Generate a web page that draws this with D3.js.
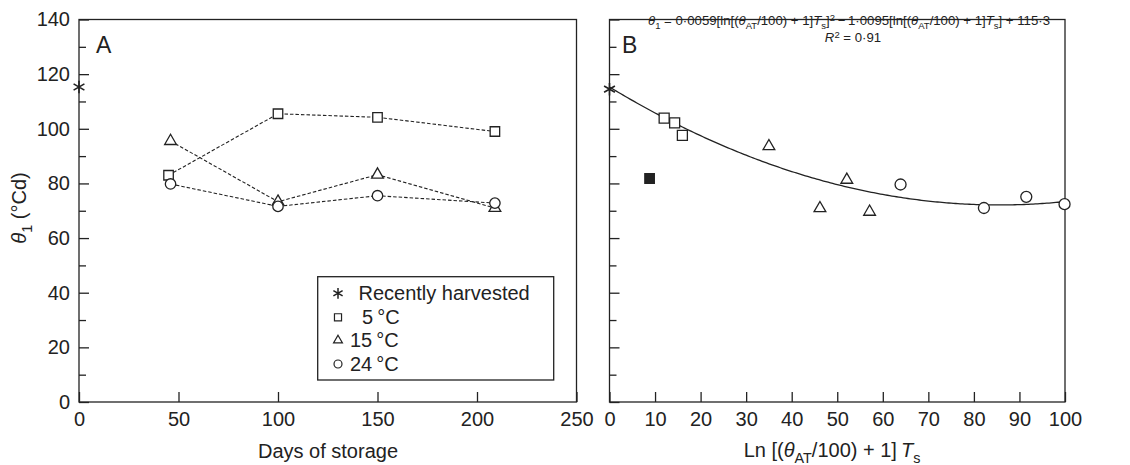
<!DOCTYPE html>
<html>
<head>
<meta charset="utf-8">
<script src="https://cdn.jsdelivr.net/npm/d3@7"></script>
<style>
  body { margin: 0; background: #fff; }
  text { font-family: "Liberation Sans", Arial, sans-serif; fill: #222; }
</style>
</head>
<body>
<script>
// panel A: days of storage
const days = [45, 100, 150, 209];
const days_first = [46, 100, 150, 209];
const fresh_A = [{x: 0, y: 115.3}];
const t5_A = [83, 105.5, 104.2, 99];
const t15_A = [95.5, 73.3, 83.2, 71];
const t24_A = [79.8, 71.6, 75.5, 72.8];

// panel B: Ln[(thetaAT/100)+1]Ts
const fresh_B = [{x: 0, y: 114.5}];
const sq_B = [{x: 12.0, y: 103.9}, {x: 14.3, y: 102.2}, {x: 16.0, y: 97.6}];
const filled_B = [{x: 8.8, y: 81.8}];
const tri_B = [{x: 35.0, y: 93.6}, {x: 46.2, y: 70.9}, {x: 52.1, y: 81.3}, {x: 57.1, y: 69.6}];
const circ_B = [{x: 63.9, y: 79.6}, {x: 82.2, y: 71.0}, {x: 91.5, y: 75.1}, {x: 99.9, y: 72.4}];
const fit_coef = [115.3, -1.0095, 0.0059];

const y_ticks = [0, 20, 40, 60, 80, 100, 120, 140];
const y_minor = [10, 30, 50, 70, 90, 110, 130];
const xA_ticks = [0, 50, 100, 150, 200, 250];
const xB_ticks = [0, 10, 20, 30, 40, 50, 60, 70, 80, 90, 100];

const W = 1130, H = 465;
const top_y = 19.5, bot_y = 402;
const ink = "#222";
const fs = 20;

let svg = d3.select("body").append("svg")
  .attr("width", W).attr("height", H);

let y = d3.scaleLinear().domain([0, 140]).range([bot_y, top_y]);
let xA = d3.scaleLinear().domain([0, 250]).range([79, 576.5]);
let xB = d3.scaleLinear().domain([0, 100]).range([609.5, 1065]);

// rich text helper: parts = [[text, kind]] kind: "", "i", "sub", "sup"
let rich = function(sel, parts, size){
  let shift = 0;
  parts.forEach(function(p){
    let kind = p[1] || "";
    let target = 0, fsz = size;
    if(kind === "sub"){ target = size * 0.3; fsz = size * 0.72; }
    if(kind === "sup"){ target = -size * 0.33; fsz = size * 0.72; }
    let ts = sel.append("tspan")
      .attr("dy", target - shift)
      .attr("font-size", fsz)
      .text(p[0]);
    if(kind === "i") ts.attr("font-style", "italic");
    shift = target;
  });
};

let frame = function(x){
  svg.append("rect")
    .attr("x", x.range()[0]).attr("y", top_y)
    .attr("width", x.range()[1] - x.range()[0]).attr("height", bot_y - top_y)
    .attr("fill", "none").attr("stroke", ink).attr("stroke-width", 1.3);
};

let y_axis = function(x, labels){
  let g = svg.append("g")
    .attr("transform", "translate(" + x.range()[0] + ",0)")
    .call(d3.axisLeft(y).tickValues(y_ticks).tickSizeInner(-10).tickSizeOuter(0).tickPadding(9)
      .tickFormat(labels ? d3.format("d") : ""));
  g.select(".domain").remove();
  g.selectAll("line").attr("stroke", ink).attr("stroke-width", 1.3);
  if(labels){
    g.selectAll("text").attr("font-size", fs).attr("font-family", null).attr("fill", ink);
  }else{
    g.selectAll("text").remove();
  }
  let m = svg.append("g")
    .attr("transform", "translate(" + x.range()[0] + ",0)")
    .call(d3.axisLeft(y).tickValues(y_minor).tickSizeInner(-7).tickSizeOuter(0).tickFormat(""));
  m.select(".domain").remove();
  m.selectAll("text").remove();
  m.selectAll("line").attr("stroke", ink).attr("stroke-width", 1.3);
};

let x_axis = function(x, ticks){
  let g = svg.append("g")
    .attr("transform", "translate(0," + bot_y + ")")
    .call(d3.axisBottom(x).tickValues(ticks).tickSizeInner(-10).tickSizeOuter(0).tickPadding(10));
  g.select(".domain").remove();
  g.selectAll("line").attr("stroke", ink).attr("stroke-width", 1.3);
  g.selectAll("text").attr("font-size", fs).attr("font-family", null).attr("fill", ink);
};

let sym = function(type, size){ return d3.symbol().type(type).size(size)(); };

let markers = function(data, x, type, size, fill, sw){
  svg.append("g").selectAll("path").data(data).join("path")
    .attr("transform", d => "translate(" + x(d.x) + "," + y(d.y) + ")")
    .attr("d", sym(type, size))
    .attr("fill", fill || "#fff")
    .attr("stroke", ink).attr("stroke-width", sw || 1.3);
};

// ---------- panel A ----------
frame(xA);
y_axis(xA, true);
x_axis(xA, xA_ticks);

let series_A = [
  {vals: t5_A, xs: days, type: d3.symbolSquare, size: 90},
  {vals: t15_A, xs: days_first, type: d3.symbolTriangle, size: 60},
  {vals: t24_A, xs: days_first, type: d3.symbolCircle, size: 85}
];
let line = d3.line().x(d => xA(d.x)).y(d => y(d.y));
series_A.forEach(function(s){
  s.pts = s.vals.map((v, i) => ({x: s.xs[i], y: v}));
  svg.append("path").datum(s.pts)
    .attr("d", line).attr("fill", "none")
    .attr("stroke", ink).attr("stroke-width", 1.1).attr("stroke-dasharray", "3.5,2");
});
series_A.forEach(function(s){ markers(s.pts, xA, s.type, s.size); });
markers(fresh_A, xA, d3.symbolAsterisk, 110, "none", 1.6);

svg.append("text").attr("x", 96).attr("y", 53).attr("font-size", 23).text("A");

// legend
let lg = svg.append("g");
lg.append("rect").attr("x", 317.7).attr("y", 276.7).attr("width", 236).attr("height", 103.3)
  .attr("fill", "#fff").attr("stroke", ink).attr("stroke-width", 1.3);
let legend_items = [
  {type: d3.symbolAsterisk, size: 80, label: "Recently harvested", tx: 358.5, fill: "none", sw: 1.5},
  {type: d3.symbolSquare, size: 50, label: "5\u2009\u00b0C", tx: 362, fill: "#fff", sw: 1.2},
  {type: d3.symbolTriangle, size: 34, label: "15\u2009\u00b0C", tx: 350, fill: "#fff", sw: 1.2},
  {type: d3.symbolCircle, size: 50, label: "24\u2009\u00b0C", tx: 350, fill: "#fff", sw: 1.2}
];
let ly = [293.3, 317.3, 340.3, 364];
legend_items.forEach(function(d, i){
  lg.append("path").attr("transform", "translate(338," + ly[i] + ")")
    .attr("d", sym(d.type, d.size)).attr("fill", d.fill).attr("stroke", ink).attr("stroke-width", d.sw);
  lg.append("text").attr("x", d.tx).attr("y", ly[i] + 7).attr("font-size", fs).text(d.label);
});

svg.append("text").attr("x", 328).attr("y", 458).attr("text-anchor", "middle")
  .attr("font-size", fs).text("Days of storage");

let yt = svg.append("text").attr("text-anchor", "middle")
  .attr("transform", "translate(26,208) rotate(-90)").attr("font-size", fs);
rich(yt, [["\u03b8", "i"], ["1", "sub"], [" (\u00b0Cd)", ""]], fs);

// ---------- panel B ----------
frame(xB);
y_axis(xB, false);
x_axis(xB, xB_ticks);

let fit_pts = d3.range(0, 100.5, 0.5).map(v => ({x: v, y: fit_coef[0] + fit_coef[1] * v + fit_coef[2] * v * v}));
svg.append("path").datum(fit_pts)
  .attr("d", d3.line().x(d => xB(d.x)).y(d => y(d.y)))
  .attr("fill", "none").attr("stroke", ink).attr("stroke-width", 1.3);

markers(fresh_B, xB, d3.symbolAsterisk, 110, "none", 1.6);
markers(filled_B, xB, d3.symbolSquare, 90, ink);
markers(sq_B, xB, d3.symbolSquare, 100);
markers(tri_B, xB, d3.symbolTriangle, 60);
markers(circ_B, xB, d3.symbolCircle, 95);

svg.append("text").attr("x", 622).attr("y", 53).attr("font-size", 23).text("B");

let eq = svg.append("text").attr("x", 648).attr("y", 25).attr("font-size", 13.2);
rich(eq, [
  ["\u03b8", "i"], ["1", "sub"], [" = 0\u00b70059[ln[(", ""], ["\u03b8", "i"], ["AT", "sub"],
  ["/100) + 1]", ""], ["T", "i"], ["s", "sub"], ["]", ""], ["2", "sup"],
  ["\u2009\u2212\u20091\u00b70095[ln[(", ""], ["\u03b8", "i"], ["AT", "sub"],
  ["/100) + 1]", ""], ["T", "i"], ["s", "sub"], ["] + 115\u00b73", ""]
], 13.2);

let r2 = svg.append("text").attr("x", 853).attr("y", 42).attr("text-anchor", "middle").attr("font-size", 13.2);
rich(r2, [["R", "i"], ["2", "sup"], [" = 0\u00b791", ""]], 13.2);

let xt = svg.append("text").attr("x", 832).attr("y", 457).attr("text-anchor", "middle").attr("font-size", fs);
rich(xt, [["Ln [(", ""], ["\u03b8", "i"], ["AT", "sub"], ["/100) + 1]\u2009", ""], ["T", "i"], ["s", "sub"]], fs);
</script>
</body>
</html>
